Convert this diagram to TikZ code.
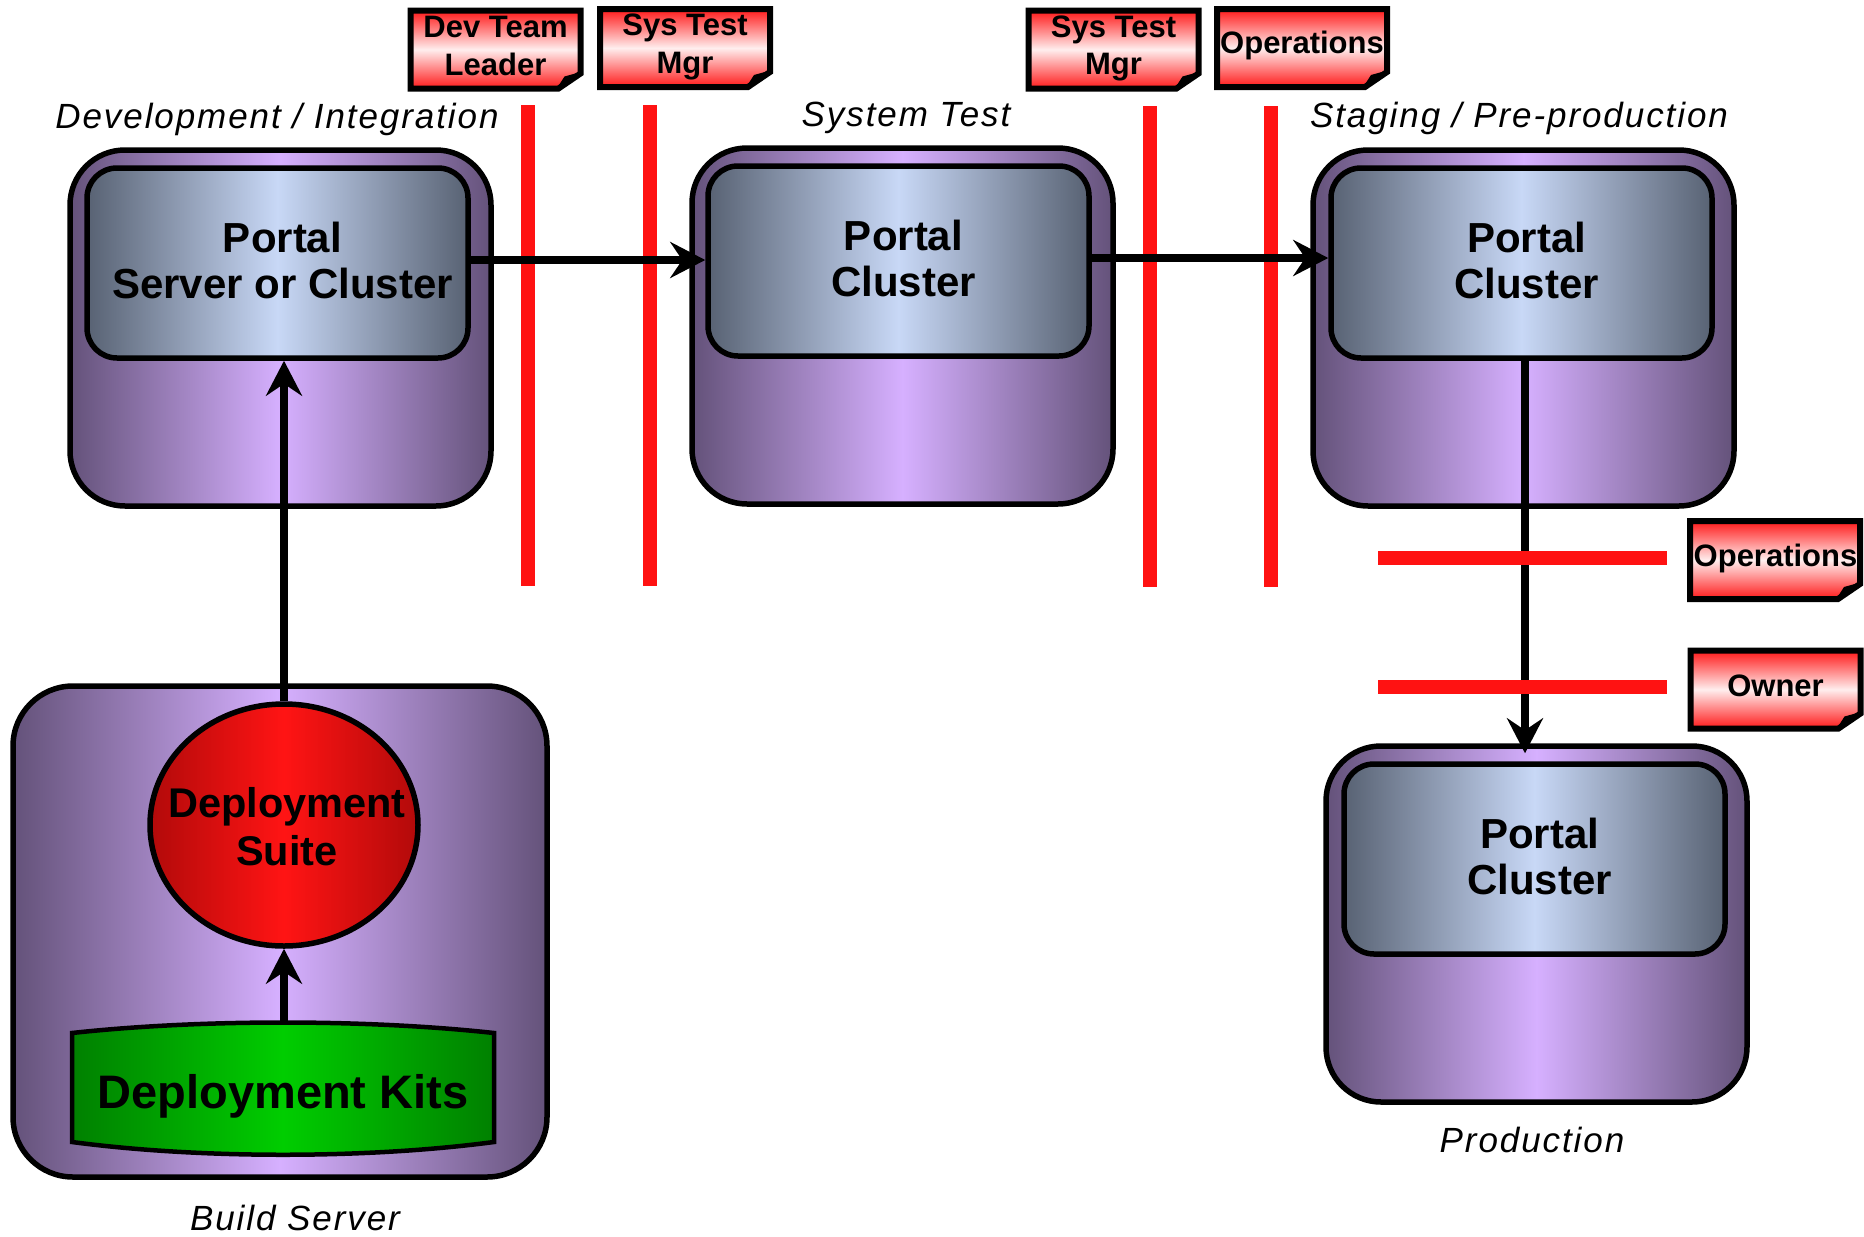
\documentclass[tikz,border=0pt]{standalone}
\usepackage{fontspec}
\setmainfont{Liberation Sans}
\newfontfamily\lblfont{Liberation Sans}[LetterSpace=5.5]
\usetikzlibrary{arrows.meta,shapes.geometric}
\definecolor{outerEdge}{RGB}{100,82,122}
\definecolor{outerMid}{RGB}{214,176,255}
\definecolor{innerEdge}{RGB}{88,98,115}
\definecolor{innerMid}{RGB}{200,216,246}
\definecolor{suiteEdge}{RGB}{178,10,10}
\definecolor{suiteMid}{RGB}{255,20,20}
\definecolor{kitsEdge}{RGB}{0,128,0}
\definecolor{kitsMid}{RGB}{0,205,0}
\definecolor{tagRed}{RGB}{255,25,25}
\definecolor{tagPink}{RGB}{255,238,238}
\definecolor{barRed}{RGB}{255,18,18}
\begin{document}
\begin{tikzpicture}[x=1pt,y=-1pt,
  bx/.style={draw, line width=5.5pt},
  outerbox/.style={bx, rounded corners=55pt, minimum width=421pt, minimum height=356pt, inner sep=0pt,
    left color=outerEdge, right color=outerEdge, middle color=outerMid},
  innerbox/.style={bx, rounded corners=30pt, minimum width=381pt, minimum height=190pt, inner sep=0pt,
    left color=innerEdge, right color=innerEdge, middle color=innerMid},
  portaltext/.style={align=center, inner sep=0pt, xshift=5pt, yshift=2.5pt,
    font={\bfseries\fontsize{42}{46}\selectfont}},
  conn/.style={line width=8pt, -{Stealth[length=35pt,width=36pt,inset=12pt]}},
  redbar/.style={line width=14pt, draw=barRed},
  lbl/.style={font={\lblfont\itshape\fontsize{35}{40}\selectfont}, anchor=base, inner sep=0pt},
  tagtext/.style={font={\bfseries\fontsize{31}{38}\selectfont}, anchor=base, inner sep=0pt},
  tagpic/.pic={
    \shade[top color=tagRed, bottom color=tagRed, middle color=tagPink]
      (-85,-39) -- (85,-39) -- (85,24) -- (63,39) -- (-85,39) -- cycle;
    \draw[line width=6pt, line join=miter]
      (-85,-39) -- (85,-39) -- (85,24) -- (63,39) -- (-85,39) -- cycle;
    \fill (60,41) -- (69,27) -- (87,22) -- cycle;
  }
]
\useasboundingbox (0,0) rectangle (1864,1237);

% boxes
\node[outerbox] (devout) at (280.5,328) {};
\node[innerbox] (devin) at (277.5,263) {};
\node[portaltext] (devinT) at (devin.center) {Portal\\Server or Cluster};
\node[outerbox] (stout) at (902.5,326) {};
\node[innerbox] (stin) at (898.5,261) {};
\node[portaltext] (stinT) at (stin.center) {Portal\\Cluster};
\node[outerbox] (sgout) at (1523.5,328) {};
\node[innerbox] (sgin) at (1521.5,263) {};
\node[portaltext] (sginT) at (sgin.center) {Portal\\Cluster};
\node[outerbox] (prout) at (1536.5,924) {};
\node[innerbox] (prin) at (1534.5,859) {};
\node[portaltext] (prinT) at (prin.center) {Portal\\Cluster};
\node[outerbox, minimum width=534pt, minimum height=491pt, rounded corners=60pt] (build) at (280,931.5) {};

% deployment suite
\node[ellipse, bx, minimum width=268pt, minimum height=242pt, inner sep=0pt,
  left color=suiteEdge, right color=suiteEdge, middle color=suiteMid] (suite) at (284,825) {};
\node[font={\bfseries\fontsize{41.5}{48}\selectfont}, anchor=base, inner sep=0pt] (suiteA) at (287,817) {Deployment};
\node[font={\bfseries\fontsize{41.5}{48}\selectfont}, anchor=base, inner sep=0pt] (suiteB) at (287,865) {Suite};

% deployment kits
\draw[line width=4.5pt, left color=kitsEdge, right color=kitsEdge, middle color=kitsMid]
  (72,1033) .. controls (200,1019) and (366,1019) .. (494,1033) -- (494,1142)
  .. controls (366,1159) and (200,1159) .. (72,1142) -- cycle;
\node[font={\bfseries\fontsize{47}{50}\selectfont}, anchor=base, inner sep=0pt] (kits) at (283,1108) {Deployment Kits};
\coordinate (kitstop) at (284,1023);

% labels
\node[lbl] (lDev) at (277,128) {Development / Integration};
\node[lbl] (lST) at (906,126) {System Test};
\node[lbl] (lSG) at (1519,127) {Staging / Pre-production};
\node[lbl] (lPr) at (1532,1152) {Production};
\node[lbl] (lBu) at (295,1230) {Build Server};

% tags
\pic (tagDev) at (495.5,49.5) {tagpic};
\node[tagtext] (tDevA) at (495.5,37) {Dev Team};
\node[tagtext] (tDevB) at (495.5,75) {Leader};
\pic (tagST1) at (685,48) {tagpic};
\node[tagtext] (tST1A) at (685,35) {Sys Test};
\node[tagtext] (tST1B) at (685,73) {Mgr};
\pic (tagST2) at (1113.5,49.5) {tagpic};
\node[tagtext] (tST2A) at (1113.5,37) {Sys Test};
\node[tagtext] (tST2B) at (1113.5,74) {Mgr};
\pic (tagOp1) at (1302,48) {tagpic};
\node[tagtext] (tOp1) at (1302,53) {Operations};
\pic (tagOp2) at (1775,560) {tagpic};
\node[tagtext] (tOp2) at (1775.5,566) {Operations};
\pic (tagOw) at (1775.5,689.5) {tagpic};
\node[tagtext] (tOw) at (1775.5,696) {Owner};

% vertical red bars (below horizontal connectors)
\draw[redbar] (528,105) -- (528,586);
\draw[redbar] (649.5,105) -- (649.5,586);
\draw[redbar] (1149.5,106) -- (1149.5,587);
\draw[redbar] (1270.5,106) -- (1270.5,587);

% connectors
\draw[conn] (kitstop) -- (kitstop |- suite.south);
\draw[conn] (suite.north) -- (suite.north |- devin.south);
\draw[conn] ([yshift=3pt]devin.east) -- ([yshift=1pt]stin.west);
\draw[conn] ([yshift=3pt]stin.east) -- ([yshift=5pt]sgin.west);
\draw[conn, shorten >=-10pt] ([xshift=3.5pt]sgin.south) -- ([xshift=-11.5pt]prout.north);

% horizontal red bars (above vertical connector)
\draw[redbar] (1378,558) -- (1667,558);
\draw[redbar] (1378,687) -- (1667,687);
\end{tikzpicture}
\end{document}
